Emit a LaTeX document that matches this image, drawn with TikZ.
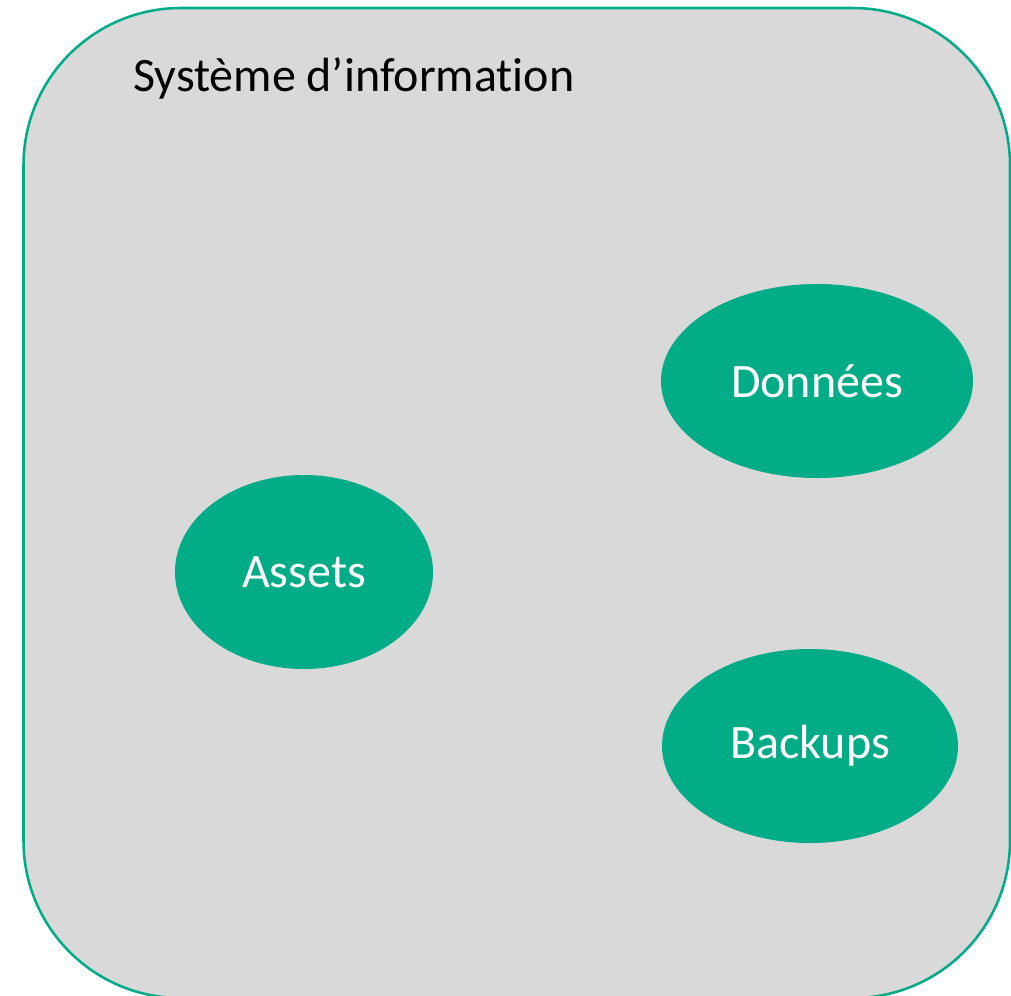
\documentclass[tikz,border=0pt]{standalone}
\usepackage{fontspec}
\setmainfont[Ligatures=NoCommon]{Carlito}
\usetikzlibrary{shapes.geometric}
\definecolor{sigreen}{RGB}{2,172,134}
\definecolor{sigray}{RGB}{217,217,217}
\tikzset{
  sysbox/.style={draw=sigreen, fill=sigray, line width=1.9pt, rounded corners=118pt},
  blob/.style={ellipse, fill=sigreen, draw=none, inner sep=0pt, minimum height=145.5pt,
    text=white, font=\fontsize{36}{42}\selectfont},
  title/.style={anchor=base west, inner sep=0pt, font=\fontsize{36}{42}\selectfont}
}
\begin{document}
\begin{tikzpicture}[x=0.75pt, y=-0.75pt]
  \useasboundingbox (0,0) rectangle (1011,996);
  % information system frame (its lower edge runs just past the page)
  \begin{scope}
    \clip (0,0) rectangle (1011,996);
    \draw[sysbox] (23.5,8) rectangle (1010,998);
  \end{scope}
  \node[title] (sys) at (133,91) {Système d’information};
  % components
  \node[blob, minimum width=234pt] (donnees) at (817,381) {Données};
  \node[blob, minimum width=193.5pt] (assets) at (304,572) {Assets};
  \node[blob, minimum width=222pt] (backups) at (810,746) {Backups};
\end{tikzpicture}
\end{document}
